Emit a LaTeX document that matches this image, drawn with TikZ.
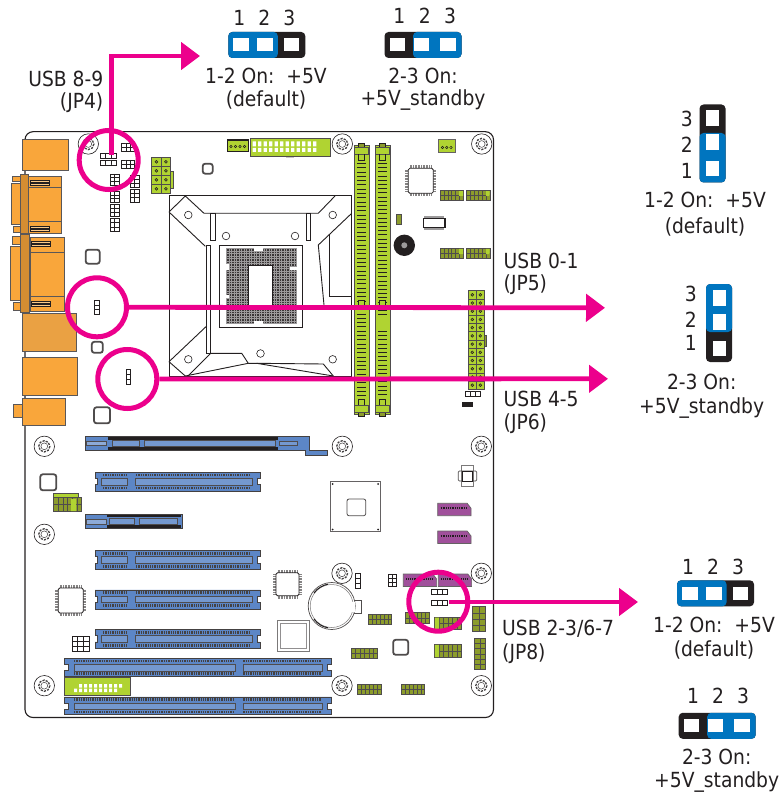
\documentclass[tikz,border=0pt]{standalone}
\usepackage{fontspec}
\setmainfont{DejaVu Sans Condensed}
\usepackage{xcolor}
\usetikzlibrary{arrows.meta, positioning, calc}
\definecolor{pcbpink}{HTML}{EC008C}
\definecolor{capblue}{HTML}{0075BF}
\definecolor{capblack}{HTML}{231F20}
\definecolor{portorange}{HTML}{F9A63B}
\definecolor{slotgreen}{HTML}{B0D332}
\definecolor{slotblue}{HTML}{5C86C6}
\definecolor{sataviolet}{HTML}{A0509B}
\definecolor{olivepin}{HTML}{8C9C2C}
\tikzset{
	port/.style={draw=capblack!75, fill=portorange, line width=0.7pt},
	partline/.style={draw=capblack, line width=0.9pt},
	slotbody/.style={draw=capblack!85, fill=slotblue, line width=0.8pt},
	slotstrip/.style={draw=capblack!80, fill=slotblue!85, line width=0.6pt},
	teeth/.style={capblack!85, line width=2.6pt, dash pattern=on 1.3pt off 1pt},
	greenpart/.style={draw=capblack!80, fill=slotgreen, line width=0.7pt},
	satapart/.style={draw=capblack!70, fill=sataviolet, line width=0.7pt},
	pinwhite/.style={draw=capblack, fill=white, line width=0.8pt},
	pinolive/.style={draw=capblack!80, fill=olivepin, line width=0.5pt},
	chipbox/.style={draw=capblack, fill=white, line width=0.8pt, rounded corners=1.5pt},
	ring/.style={circle, draw=pcbpink, line width=5pt, minimum size=59pt, inner sep=0pt},
	pinkarrow/.style={draw=pcbpink, line width=4.8pt,
		-{Triangle[length=19pt,width=27pt]}},
	legend/.style={font=\fontsize{20.8}{22}\selectfont, text=capblack, inner sep=0pt},
	pinno/.style={font=\fontsize{20.8}{22}\selectfont, text=capblack, inner sep=0pt},
}
%% rows and columns of a header block: x1 y1 x2 y2 columns rows
\newcommand{\pinblock}[7][pinwhite]{
	\draw[#1] (#2,#3) rectangle (#4,#5);
	\foreach \i in {1,...,#6}{
		\pgfmathsetmacro{\xx}{#2+\i*(#4-#2)/#6}
		\draw[#1] (\xx,#3) -- (\xx,#5);
	}
	\foreach \j in {1,...,#7}{
		\pgfmathsetmacro{\yy}{#3+\j*(#5-#3)/#7}
		\draw[#1] (#2,\yy) -- (#4,\yy);
	}
}
%% green header with a hole in each cell
\newcommand{\pinholes}[6]{
	\pinblock[greenpart]{#1}{#2}{#3}{#4}{#5}{#6}
	\foreach \i in {1,...,#5}{
		\foreach \j in {1,...,#6}{
			\pgfmathsetmacro{\xx}{#1+(\i-0.5)*(#3-#1)/#5}
			\pgfmathsetmacro{\yy}{#2+(\j-0.5)*(#4-#2)/#6}
			\draw[capblack, fill=olivepin, line width=0.5pt] (\xx,\yy) circle (1.4);
		}
	}
}
\newcommand{\mounthole}[2]{
	\begin{scope}[shift={(#1,#2)}]
		\draw[capblack, line width=0.6pt, fill=white] (0,0) circle (10.2);
		\draw[capblack!85, line width=1.3pt, dash pattern=on 2.2pt off 1.2pt] (0,0) circle (5.6);
		\draw[capblack!85, line width=0.5pt] (0,0) circle (3.4);
	\end{scope}
}
\newcommand{\smallchip}[3]{
	\draw[capblack!80, fill=white, line width=1.8pt, rounded corners=2.5pt]
	(#1-#3,#2-#3) rectangle (#1+#3,#2+#3);
}
%% square chip with gray legs: x y half-size
\newcommand{\qfpchip}[3]{
	\draw[capblack!55, line width=3pt, dash pattern=on 0.9pt off 0.7pt]
	(#1-#3+1.5,#2-#3-1.5) -- (#1+#3-1.5,#2-#3-1.5)
	(#1-#3+1.5,#2+#3+1.5) -- (#1+#3-1.5,#2+#3+1.5)
	(#1-#3-1.5,#2-#3+1.5) -- (#1-#3-1.5,#2+#3-1.5)
	(#1+#3+1.5,#2-#3+1.5) -- (#1+#3+1.5,#2+#3-1.5);
	\draw[chipbox] (#1-#3,#2-#3) rectangle (#1+#3,#2+#3);
}
%% expansion slots: left edge x, top y
\newcommand{\pcieslot}[2]{
	\begin{scope}[shift={(#1,#2)}]
		\draw[slotbody] (0,0) -- (165,0) -- (165,6) -- (162.500,6) -- (162.500,12.500) -- (165,12.500)
		-- (165,19) -- (0,19) -- (0,12.500) -- (2.500,12.500) -- (2.500,6) -- (0,6) -- cycle;
		\draw[slotstrip] (6,6) rectangle (32,12.500);
		\draw[slotstrip] (40,6) rectangle (157,12.500);
		\draw[teeth] (8,2.800) -- (32,2.800) (8,15.800) -- (32,15.800);
		\draw[teeth] (41,2.800) -- (155,2.800) (41,15.800) -- (155,15.800);
	\end{scope}
}
\newcommand{\pcislot}[2]{
	\begin{scope}[shift={(#1,#2)}]
		\draw[slotbody] (0,0) -- (267.700,0) -- (267.700,6) -- (263.500,6) -- (263.500,12.500)
		-- (267.700,12.500) -- (267.700,17.700) -- (0,17.700) -- (0,12.500) -- (4.500,12.500)
		-- (4.500,6) -- (0,6) -- cycle;
		\draw[slotstrip] (10,6) rectangle (171,12.500);
		\draw[slotstrip] (179.300,6) rectangle (258.700,12.500);
		\draw[teeth] (10,2.800) -- (169,2.800) (10,15) -- (169,15);
		\draw[teeth] (179.300,2.800) -- (257,2.800) (179.300,15) -- (257,15);
	\end{scope}
}
%% memory socket end, sign flips it for the lower one
\newcommand{\dimmlatch}[3]{
	\begin{scope}[shift={(#1,#2)}, yscale=#3]
		\draw[capblack, fill=olivepin, line width=0.7pt] (-3,0) rectangle (3,5);
		\draw[greenpart] (-7,4) rectangle (7,11);
		\draw[partline] (-3,11) -- (-3,17) -- (3,17) -- (3,11);
	\end{scope}
}
\newcommand{\dimmslot}[2]{
	\draw[greenpart] (#1-7.500,145) rectangle (#1+7.500,414);
	\draw[capblack, line width=9.500pt, dash pattern=on 0.900pt off #2pt] (#1,163) -- (#1,396);
	\dimmlatch{#1}{143}{1}
	\dimmlatch{#1}{416}{-1}
}
%% jumper caps: #3=0 blue on pins 1-2, #3=1 blue on pins 2-3
\newcommand{\hjumper}[3]{
	\begin{scope}[shift={(#1,#2)}]
		\fill[capblack, rounded corners=4pt] (0,0) rectangle (77,26);
		\ifnum#3=0
			\fill[capblue, rounded corners=4pt] (0,0) rectangle (49.500,26);
		\else
			\fill[capblue, rounded corners=4pt] (28.500,0) rectangle (77,26);
		\fi
		\foreach \p in {5,29,55.500}{
			\fill[white] (\p,6.500) rectangle (\p+15.500,19.500);
		}
	\end{scope}
}
\newcommand{\vjumper}[3]{
	\begin{scope}[shift={(#1,#2)}]
		\fill[capblack, rounded corners=4pt] (0,0) rectangle (26,78);
		\ifnum#3=0
			\fill[capblue, rounded corners=4pt] (0,28.500) rectangle (26,78);
		\else
			\fill[capblue, rounded corners=4pt] (0,0) rectangle (26,48);
		\fi
		\foreach \p in {6,30,56.500}{
			\fill[white] (6.500,\p) rectangle (19.500,\p+15.500);
		}
	\end{scope}
}
\begin{document}
\begin{tikzpicture}[x=1pt, y=-1pt]
	\useasboundingbox (0,0) rectangle (782,794);
	
	%% ---- Board outline ----
	\draw[capblack, line width=1.1pt, rounded corners=8pt] (25,131.7) rectangle (493.500,717.500);
	
	%% ---- Rear ports ----
	\draw[port] (22,139) rectangle (68,170);
	\draw[port] (12.300,176) rectangle (20,181.700);
	\draw[port] (11,183.300) rectangle (20,224.300);
	\draw[port] (13.300,226) rectangle (20.700,232);
	\draw[port] (28.300,176) rectangle (61,233.300);
	\draw[port] (28.300,187.700) -- (61,187.700) (28.300,221.700) -- (61,221.700);
	\draw[port, fill=portorange!85!black] (20,174.300) rectangle (28.300,233.300);
	\draw[port] (12.300,236.700) rectangle (20.700,244);
	\draw[port] (10.300,246) rectangle (20.700,300.700);
	\draw[port] (13.300,302.700) rectangle (20.700,310);
	\draw[port] (30,237.300) rectangle (64,311.700);
	\draw[port] (30,252.300) -- (64,252.300) (30,296.700) -- (64,296.700);
	\draw[port, fill=portorange!85!black] (20.700,234.300) rectangle (29.300,312.700);
	\foreach \a/\b in {30/180,30/226,31/241,31/301}{
		\draw[capblack, fill=portorange!60!white, line width=0.5pt] (\a,\b) rectangle (\a+19,\b+2);
		\draw[capblack, fill=portorange!60!white, line width=0.5pt] (\a,\b+3) rectangle (\a+19,\b+5);
	}
	\draw[port, fill=portorange!88!gray] (22,313.300) rectangle (76.300,351);
	\draw[port] (22.700,357.300) rectangle (77.300,395);
	\draw[port] (22,398.700) rectangle (65,425.300);
	\draw[port] (13.300,404.300) rectangle (22,417.700);
	
	%% ---- Mounting holes ----
	\foreach \hx/\hy in {88.300/144,342.300/144,481.700/144,44.300/446.300,44.300/534.300,44.300/685.700,
		342.300/446.300,481.300/446.300,342/573.300,481.300/573.300,342/685.700,481.300/685.700}{
		\mounthole{\hx}{\hy}
	}
	
	%% ---- CPU socket ----
	\draw[partline, fill=white] (169,195.700) rectangle (351.700,376.500);
	\draw[partline] (169,212) -- (185.300,196) -- (204,213.300) -- (318.300,213.300) -- (335,196);
	\draw[partline] (169,212) -- (205.300,246.300);
	\draw[partline] (206.700,245) rectangle (210.700,353.300);
	\draw[partline] (210.700,353.300) -- (188,376);
	\draw[partline] (169,361.700) -- (206.700,326);
	\draw[partline] (169,361.700) -- (185.300,376) -- (248.300,363.300) -- (241.700,353.300) -- (210.700,353.300);
	\draw[partline] (248.300,363.300) -- (256.700,363.300) -- (333.300,376);
	\draw[partline] (323.300,364) -- (333.300,376) (256.700,363.300) -- (323.300,364);
	\draw[partline] (351.700,213.300) -- (318.300,245) -- (324,305);
	\draw[partline] (329.300,235) -- (329.300,296) -- (351.700,296);
	\draw[partline] (210.700,213.300) rectangle (215,240);
	\draw[partline] (306,213.300) rectangle (310.700,240);
	\foreach \cx/\cy in {188.300/215,226/236,332.700/215,295/236,188.300/359.300,260.500/353.500,332.700/359.300}{
		\draw[capblack, line width=0.6pt] (\cx,\cy) circle (3.800);
	}
	\draw[partline] (219.300,245) rectangle (302,327.300);
	\fill[capblack!90] (226.500,248.300) rectangle (296.700,323.300);
	\foreach \gx in {226.500,229,...,297}{
		\draw[capblack!45, line width=0.4pt] (\gx,248) -- (\gx,324);
	}
	\foreach \gy in {248.300,250.800,...,324}{
		\draw[capblack!45, line width=0.4pt] (226,\gy) -- (297,\gy);
	}
	\fill[white] (226,264) rectangle (229,270) (226,295) rectangle (229,298)
	(290,267) rectangle (297,270) (254,248) rectangle (263,251) (254,321) rectangle (263,324);
	\draw[partline, fill=white] (248.300,265.700) rectangle (272.700,305);
	
	%% ---- Memory sockets ----
	\dimmslot{361.500}{3.400}
	\dimmslot{382.500}{3.300}
	\fill[slotgreen] (376,317) rectangle (389,328);
	\draw[capblack, line width=0.6pt, fill=slotgreen] (358.500,300) rectangle (364,305);
	\draw[capblack, line width=0.6pt, fill=slotgreen] (379.500,300) rectangle (385,305);
	
	%% ---- Top connectors ----
	\draw[greenpart, draw=capblack, line width=1.2pt] (227.700,140) rectangle (248.300,151.700);
	\foreach \p in {231,235.500,240,244.500}{
		\draw[capblack, line width=0.5pt] (\p,146.500) circle (1.200);
	}
	\fill[capblack!25] (286,156) rectangle (294,158.500);
	\draw[greenpart] (250,138.300) rectangle (330,156);
	\foreach \p in {252.500,258,...,318}{
		\fill[white] (\p,141.500) rectangle (\p+3.400,146.500) (\p,148) rectangle (\p+3.400,152);
	}
	\draw[greenpart] (151.700,157.300) rectangle (170.700,193.300);
	\pinholes{151.700}{157.300}{170.700}{193.300}{2}{4}
	\draw[greenpart] (170.700,171) rectangle (173,188);
	
	%% ---- White pin blocks ----
	\pinblock{110.700}{174}{119}{185}{2}{3}
	\pinblock{110.700}{191.700}{119}{202.300}{2}{3}
	\pinblock{110.700}{204}{119}{216.700}{2}{3}
	\pinblock{110.700}{218.300}{119}{231.700}{2}{3}
	\pinblock{130.300}{175}{139}{187.700}{2}{3}
	\pinblock{130.300}{189}{139}{202.300}{2}{3}
	\pinblock{121.700}{143.300}{134.300}{151.700}{3}{2}
	\pinblock{121.700}{160}{134.300}{168.700}{3}{2}
	\pinblock{100.700}{153.300}{116}{158.300}{3}{1}
	\pinblock{100.700}{160}{116}{165}{3}{1}
	\pinblock{72}{636.300}{89.300}{651.700}{3}{3}
	\pinblock{355.300}{573.300}{360.700}{588.300}{1}{3}
	\pinblock{388.300}{574}{396.700}{586.700}{2}{3}
	\pinblock{465}{391.700}{480.700}{396.700}{3}{1}
	\pinblock{431.700}{589}{447.700}{594}{3}{1}
	\pinblock{431.700}{600}{447.700}{605}{3}{1}
	\pinblock{94.500}{300.500}{99}{314}{1}{3}
	\pinblock{126}{369.500}{130.500}{384.500}{1}{3}
	\fill[capblack] (461.700,402) rectangle (472.700,406.700);
	
	%% ---- Olive headers ----
	\foreach \ax/\ay/\bx/\by/\cl/\rw in {
		440/190.700/463.300/200.700/6/2, 466.700/190.700/490/200.700/6/2,
		440/248.300/463.300/258.300/6/2, 466.700/248.300/490/258.300/6/2,
		368.300/614/391.700/624.300/6/2, 405.700/612.300/429/623.300/6/2,
		434.300/617/461.700/629.300/6/2, 434.300/644.300/461.700/657.700/6/2,
		351/648.300/377.700/658.300/6/2, 357.300/684/381/694.300/6/2,
		401/684/424.700/694.300/6/2, 472.300/606.700/485.300/631.700/2/4,
		474.300/638.300/485.300/669.300/2/6, 53.300/497/81.700/511.700/6/2}{
		\pinblock[pinolive]{\ax}{\ay}{\bx}{\by}{\cl}{\rw}
	}
	\fill[slotgreen] (434.800,617.500) rectangle (439,628.800) (434.800,644.800) rectangle (439,657.200)
	(459,191.200) rectangle (463,196) (486,191.200) rectangle (489.500,196)
	(459,248.800) rectangle (463,254) (486,248.800) rectangle (489.500,254)
	(71,499) rectangle (76,511);
	\draw[greenpart] (53.300,493.300) rectangle (78,497);
	\pinholes{468.300}{290.700}{484.300}{389.300}{2}{12}
	\draw[pinolive] (484.300,335) rectangle (486.700,346.700);
	\draw[greenpart, draw=capblack!70, line width=1pt] (438.300,139.300) rectangle (455,152.700);
	\foreach \p in {442.500,446.700,450.900}{
		\draw[capblack, line width=0.5pt] (\p,147.500) circle (1.300);
	}
	\draw[pinolive] (396.700,214.300) rectangle (401.700,224);
	
	%% ---- Chips on the upper right ----
	\qfpchip{420.800}{180.800}{12.500}
	\draw[capblack!45, line width=2pt] (424,217) -- (444,217) (424,229) -- (444,229);
	\draw[capblack, fill=white, line width=1.200pt] (423.500,218.500) rectangle (445,227.700);
	\fill[capblack] (404.300,245.300) circle (10.700);
	\fill[capblack!45] (404.300,245.300) circle (3);
	
	%% ---- Small square parts ----
	\smallchip{207.700}{168.700}{5}
	\smallchip{92.700}{256.700}{7}
	\smallchip{97.300}{347.300}{5.500}
	\smallchip{102}{415.300}{8}
	\smallchip{48.300}{482.300}{8}
	\smallchip{400.700}{647.300}{7.500}
	
	%% ---- Expansion slots ----
	\draw[slotbody] (85,436) -- (309.300,436) -- (309.300,450) -- (327.300,450) -- (327.300,455.700)
	-- (305,455.700) -- (305,450.700) -- (85,450.700) -- cycle;
	\draw[slotstrip, fill=slotblue!70] (86.700,441) rectangle (106.700,445.700);
	\draw[slotstrip] (112.700,440.300) rectangle (139.300,446);
	\draw[slotstrip] (144,440.300) rectangle (275,446);
	\draw[slotstrip] (279.300,441.700) rectangle (297.300,445);
	\draw[capblack, line width=2.800pt] (108,438.300) -- (278,438.300) (108,448.300) -- (278,448.300);
	\pcieslot{95}{472.300}
	\pcieslot{95}{550.700}
	\pcieslot{95}{589.900}
	\pcieslot{95}{629.400}
	\draw[slotbody] (85,514) rectangle (182.700,528.300);
	\draw[slotstrip, fill=slotblue!70] (86,519.300) rectangle (106.700,524);
	\draw[capblack, line width=2.800pt] (107,516) -- (181,516) (107,526.300) -- (181,526.300);
	\draw[slotstrip] (109.300,518.300) rectangle (134.300,524);
	\draw[slotstrip] (139,518.300) rectangle (177.300,524);
	\pcislot{64}{658.300}
	\pcislot{64}{696.900}
	\draw[greenpart] (64,677.300) rectangle (130,695);
	\foreach \p in {79,84,...,119}{
		\fill[white] (\p,684) rectangle (\p+3,687.500) (\p-5,688.500) rectangle (\p-2,692);
	}
	
	%% ---- Chips in the lower half ----
	\qfpchip{70.800}{600.500}{12.500}
	\qfpchip{287.500}{584.300}{11.500}
	\draw[chipbox, draw=capblack!60, line width=1.200pt, rounded corners=0pt] (277.300,620.700) rectangle (309.300,651.700);
	\draw[capblack!50, line width=0.600pt] (280.500,623.700) rectangle (306.300,648.700);
	\draw[capblack!70, fill=white, line width=0.800pt] (330,481.700) rectangle (380.700,531.700);
	\draw[capblack!80, line width=0.800pt, rounded corners=2pt] (347,499) rectangle (365.700,515.700);
	\foreach \dx/\dy in {332.500/484,378/484,332.500/529.500,378/529.500}{
		\fill[capblack] (\dx,\dy) circle (1);
	}
	\draw[capblack!60, fill=white, line width=0.700pt] (461,465) rectangle (473,486.700);
	\draw[capblack!80, line width=0.700pt, rounded corners=1pt] (458.300,471) rectangle (476.700,481);
	\draw[capblack, fill=white, line width=0.700pt] (462,471) rectangle (472.500,481);
	\draw[capblack!80, fill=white, line width=0.700pt] (353,600) rectangle (361.700,613.300);
	\draw[capblack!80, fill=white, line width=0.700pt] (331.700,606) circle (23.500);
	\draw[capblack!60, line width=0.500pt] (331.700,606) circle (21.500);
	\draw[capblack, line width=1pt] (314,593) arc (216:260:22.300);
	\draw[capblack, line width=1pt] (314,619) arc (144:100:22.300);
	\fill[white] (350,601.500) rectangle (354.500,611.800);
	
	%% ---- SATA connectors ----
	\foreach \sx/\sy in {437.700/503.300,437.700/531,403.300/574,438.300/574}{
		\draw[satapart] (\sx,\sy) -- (\sx+29.500,\sy) -- (\sx+33.300,\sy+5) -- (\sx+33.300,\sy+12.400) -- (\sx,\sy+12.400) -- cycle;
		\draw[capblack, line width=2pt, dash pattern=on 1pt off 0.8pt] (\sx+3,\sy+5) -- (\sx+29,\sy+5);
	}
	
	%% ---- Markers and arrows ----
	\node[ring] (jp4ring) at (108.700,160) {};
	\node[ring] (jp5ring) at (97,307.300) {};
	\node[ring] (jp6ring) at (127.300,379) {};
	\node[ring] (jp8ring) at (438.300,601.700) {};
	\coordinate (jp4pin) at (111.500,155);
	\coordinate (jp4end) at (200,56);
	\coordinate (jp5end) at (605,307.800);
	\coordinate (jp6end) at (608,378.800);
	\coordinate (jp8pin) at (449,602);
	\coordinate (jp8end) at (638,602);
	\draw[pinkarrow] (jp4pin) |- (jp4end);
	\draw[pinkarrow] (jp5ring.east) -- (jp5end);
	\draw[pinkarrow] (jp6ring.east) -- (jp6end);
	\draw[pinkarrow] (jp8pin) -- (jp8end);
	
	%% ---- Jumper names ----
	\node[legend, anchor=east] (jp4a) at (103.500,79) {USB 8-9};
	\node[legend, anchor=east] (jp4b) at (103.500,103) {(JP4)};
	\node[legend, anchor=west] (jp5a) at (503.500,261) {USB 0-1};
	\node[legend, anchor=west] (jp5b) at (503.500,285) {(JP5)};
	\node[legend, anchor=west] (jp6a) at (503.500,399) {USB 4-5};
	\node[legend, anchor=west] (jp6b) at (503.500,424) {(JP6)};
	\node[legend, anchor=west] (jp8a) at (502,629) {USB 2-3/6-7};
	\node[legend, anchor=west] (jp8b) at (502,654) {(JP8)};
	
	%% ---- Jumper settings, top ----
	\hjumper{228.300}{32}{0}
	\hjumper{384.500}{32}{1}
	\foreach \p/\v in {239.300/1,264.300/2,289.300/3}{
		\node[pinno] at (\p,18) {\v};
	}
	\foreach \p/\v in {399.300/1,424.700/2,450/3}{
		\node[pinno] at (\p,15.500) {\v};
	}
	\node[legend] (topaa) at (266,76) {1-2 On:\ \ +5V};
	\node[legend] (topab) at (266,100) {(default)};
	\node[legend] (topba) at (423,76) {2-3 On:};
	\node[legend] (topbb) at (423,100) {+5V\_standby};
	
	%% ---- Jumper settings, right ----
	\vjumper{699.500}{104.500}{0}
	\vjumper{706}{284}{1}
	\foreach \p/\v in {119/3,145/2,171/1}{
		\node[pinno] at (686.700,\p) {\v};
	}
	\foreach \p/\v in {294/3,320/2,343/1}{
		\node[pinno] at (690.700,\p) {\v};
	}
	\node[legend] (rightaa) at (705,200) {1-2 On:\ \ +5V};
	\node[legend] (rightab) at (705,226.700) {(default)};
	\node[legend] (rightba) at (701.700,381.700) {2-3 On:};
	\node[legend] (rightbb) at (701.700,408) {+5V\_standby};
	
	%% ---- Jumper settings, lower right ----
	\hjumper{677}{580.300}{0}
	\hjumper{678.700}{712.800}{1}
	\foreach \p/\v in {688/1,713/2,738/3}{
		\node[pinno] at (\p,567) {\v};
	}
	\foreach \p/\v in {693/1,718/2,743/3}{
		\node[pinno] at (\p,695.500) {\v};
	}
	\node[legend] (lowaa) at (714,625) {1-2 On:\ \ +5V};
	\node[legend] (lowab) at (714,650) {(default)};
	\node[legend] (lowba) at (716.700,756.700) {2-3 On:};
	\node[legend] (lowbb) at (716.700,781.700) {+5V\_standby};
\end{tikzpicture}
\end{document}
